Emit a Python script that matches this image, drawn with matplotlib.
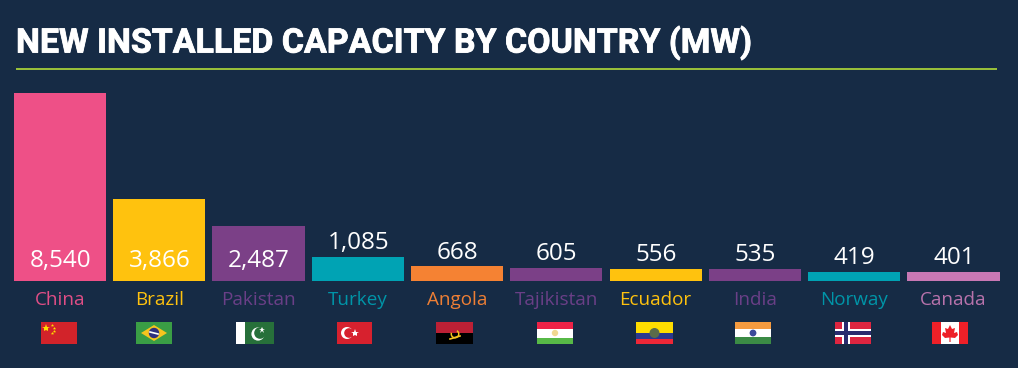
import matplotlib
matplotlib.use("Agg")
import matplotlib.pyplot as plt
from matplotlib.patches import Rectangle, Polygon, Circle, Wedge
import matplotlib.patheffects as pe
import numpy as np

countries = ["China", "Brazil", "Pakistan", "Turkey", "Angola", "Tajikistan", "Ecuador", "India", "Norway", "Canada"]
# bar lengths as drawn in the picture (Brazil's bar is drawn a little shorter than its printed label)
bar_lengths = [8540, 3725, 2487, 1085, 668, 605, 556, 535, 419, 401]
value_labels = ["8,540", "3,866", "2,487", "1,085", "668", "605", "556", "535", "419", "401"]
colors = ["#EE5087", "#FFC20E", "#7B4087", "#00A3B4", "#F58233", "#7B4087", "#FFC20E", "#7B4087", "#00A3B4", "#C878B4"]
label_colors = ["#E04E86", "#FFC20E", "#6A3F87", "#0095A8", "#EE7F35", "#6A3F87", "#FFC20E", "#6A3F87", "#0095A8", "#B873AC"]
inside_bar = [True, True, True, False, False, False, False, False, False, False]
title = "NEW INSTALLED CAPACITY BY COUNTRY (MW)"
BG = "#162B45"
W, H = 1018, 368
FONT = "Open Sans"

fig = plt.figure(figsize=(W / 100, H / 100), dpi=100, facecolor=BG)

ov = fig.add_axes([0, 0, 1, 1], zorder=0)
ov.set_xlim(0, W); ov.set_ylim(H, 0); ov.axis("off")

ax = fig.add_axes([10.2 / W, (H - 281) / H, 993 / W, 188 / H], zorder=1)
ax.patch.set_alpha(0)
x = np.arange(len(bar_lengths))
ax.bar(x, bar_lengths, width=0.928, color=colors, linewidth=0)
ax.set_xlim(-0.5, 9.5)
ax.set_ylim(0, 8540)
ax.set_xticks(x, countries)
ax.set_yticks([])
for s in ax.spines.values():
    s.set_visible(False)
ax.tick_params(axis="x", length=0, pad=7)
for t, c in zip(ax.get_xticklabels(), label_colors):
    t.set_color(c); t.set_fontsize(13.6); t.set_fontfamily(FONT)

for xi, v, lab, ins in zip(x, bar_lengths, value_labels, inside_bar):
    if ins:
        ax.annotate(lab, (xi, 0), xytext=(0.3, 10.2), textcoords="offset points", ha="center",
                    va="baseline", color="white", fontsize=17.5, family=FONT)
    else:
        ax.annotate(lab, (xi, v), xytext=(0.3, 5.6), textcoords="offset points", ha="center",
                    va="baseline", color="white", fontsize=17.5, family=FONT)

fig.text(16 / W, 1 - 52.6 / H, title, color="white", fontsize=24.4, fontweight="bold", family="Roboto",
         ha="left", va="baseline",
         path_effects=[pe.withStroke(linewidth=0.6, foreground="white")])
ov.plot([16, 997], [69, 69], color="#A6CE39", lw=1.3, solid_capstyle="butt")

def rect(x0, y0, w, h, c, z=2):
    ov.add_patch(Rectangle((x0, y0), w, h, facecolor=c, edgecolor="none", zorder=z))

T, FH = 322, 22
# China
rect(41, T, 36, FH, "#D2232A")
ov.plot([46], [T + 6], marker="*", ms=6, color="#FFDE00", mew=0, zorder=3)
for dx, dy in [(52, 3), (54, 6), (54, 9), (52, 11)]:
    ov.plot([dx], [T + dy], marker="*", ms=2.5, color="#FFDE00", mew=0, zorder=3)
# Brazil
rect(136, T, 36, FH, "#3A9E45")
ov.add_patch(Polygon([[141, T + 11], [154, T + 3], [167, T + 11], [154, T + 19]], facecolor="#F5C51E", zorder=3))
ov.add_patch(Circle((154, T + 11), 5.2, facecolor="#2E2F7F", zorder=4))
ov.plot([150, 158], [T + 10, T + 12], color="white", lw=1.2, zorder=5)
# Pakistan
rect(236, T, 9, FH, "white")
rect(245, T, 29, FH, "#27703A")
ov.add_patch(Circle((258, T + 12), 6.6, facecolor="white", zorder=3))
ov.add_patch(Circle((260, T + 11), 5.8, facecolor="#27703A", zorder=4))
ov.plot([262], [T + 8], marker="*", ms=5, color="white", mew=0, zorder=5)
# Turkey
rect(337, T, 35, FH, "#D7212E")
ov.add_patch(Circle((347, T + 11), 6, facecolor="white", zorder=3))
ov.add_patch(Circle((349, T + 11), 4.8, facecolor="#D7212E", zorder=4))
ov.plot([355], [T + 11], marker="*", ms=6, color="white", mew=0, zorder=5)
# Angola
rect(436, T, 37, 11, "#BC2035")
rect(436, T + 11, 37, 11, "#000000")
ov.add_patch(Wedge((455, T + 12), 4.5, -60, 200, width=1.5, facecolor="#F5C51E", zorder=3))
ov.plot([450, 460], [T + 17, T + 14], color="#F5C51E", lw=1.2, zorder=3)
# Tajikistan
rect(537, T, 36, 6.5, "#EE2247")
rect(537, T + 6.5, 36, 9.5, "white")
rect(537, T + 16, 36, 6, "#57B947")
ov.add_patch(Circle((555, T + 11), 3.2, facecolor="#F0D890", zorder=3))
# Ecuador
rect(636, T, 37, 11, "#FFDD00")
rect(636, T + 11, 37, 5.5, "#2B3990")
rect(636, T + 16.5, 37, 5.5, "#EE2737")
ov.add_patch(Circle((654.5, T + 11), 5, facecolor="#5A6B4A", zorder=3))
# India
rect(735, T, 36, 7.3, "#F59B3F")
rect(735, T + 7.3, 36, 7.4, "white")
rect(735, T + 14.7, 36, 7.3, "#3B8B45")
ov.add_patch(Circle((753, T + 11), 3.4, facecolor="#3C4A9A", zorder=3))
# Norway
rect(835, T, 36, FH, "#DE2540")
rect(842, T, 8, FH, "white")
rect(835, T + 7, 36, 8, "white")
rect(844, T, 4, FH, "#2A2B6E", 3)
rect(835, T + 9, 36, 4, "#2A2B6E", 3)
# Canada
rect(932, T, 36, FH, "white")
rect(932, T, 9, FH, "#EE2028")
rect(959, T, 9, FH, "#EE2028")
leaf = [[950, T + 3], [952, T + 7], [955, T + 6], [954, T + 11], [957, T + 10], [958, T + 13],
        [955, T + 16], [950.6, T + 15.5], [950.6, T + 20], [949.4, T + 20], [949.4, T + 15.5],
        [945, T + 16], [942, T + 13], [943, T + 10], [946, T + 11], [945, T + 6], [948, T + 7]]
ov.add_patch(Polygon(leaf, facecolor="#EE2028", edgecolor="none", zorder=3))

fig.savefig("out.png", dpi=100, facecolor=BG)
